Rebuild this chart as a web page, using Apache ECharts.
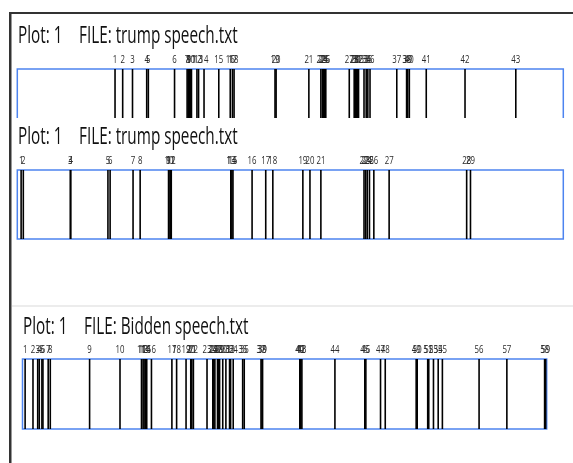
<!DOCTYPE html>
<html>
<head>
<meta charset="utf-8">
<script src="https://cdn.jsdelivr.net/npm/echarts@6/dist/echarts.min.js"></script>
<style>
html,body{margin:0;padding:0;background:#fff;}
#c{width:573px;height:463px;}
</style>
</head>
<body>
<div id="c"></div>
<script>
// Plot titles
const plotLabels = ['Plot: 1', 'Plot: 1', 'Plot: 1'];
const fileLabels = ['FILE: trump speech.txt', 'FILE: trump speech.txt', 'FILE: Bidden speech.txt'];

// Hit positions (% of text length), hit numbers are 1..n in order
const trumpHitsA = [17.9, 19.3, 21.1, 23.7, 24.0, 28.8, 31.1, 31.3, 31.5, 31.7, 31.9, 32.9, 33.2, 34.2,
  36.9, 39.0, 39.4, 39.7, 47.2, 47.4, 53.4, 55.6, 55.9, 56.1, 56.3, 56.5, 60.8, 61.7, 61.9, 62.1,
  62.3, 62.5, 63.5, 63.9, 64.2, 64.6, 69.5, 71.3, 71.5, 71.8, 74.9, 82.0, 91.3];
const trumpHitsB = [0.7, 1.1, 9.7, 9.8, 16.6, 17.0, 21.2, 22.5, 27.7, 27.8, 28.1, 28.2, 39.1, 39.3,
  39.5, 43.0, 45.5, 46.8, 52.3, 53.6, 55.6, 63.5, 63.8, 64.1, 64.5, 65.3, 68.1, 82.3, 83.0];
const biddenHits = [0.5, 2.0, 2.9, 3.2, 3.7, 3.9, 4.9, 5.3, 12.8, 18.6, 22.7, 23.0, 23.2, 23.5, 23.7,
  24.6, 28.5, 29.4, 31.2, 32.1, 32.3, 32.6, 35.2, 36.3, 36.5, 36.7, 37.2, 37.4, 37.6, 38.2, 38.8,
  39.5, 39.7, 40.2, 42.0, 42.3, 45.5, 45.7, 45.8, 52.9, 53.0, 53.1, 53.3, 59.6, 65.3, 65.5, 68.3,
  69.2, 75.1, 75.3, 77.3, 77.5, 78.4, 79.3, 80.1, 87.1, 92.4, 99.6, 99.8];

const hitSets = [trumpHitsA, trumpHitsB, biddenHits];

const chart = echarts.init(document.getElementById('c'), null, {renderer: 'canvas'});

const FONT = 'Open Sans';
const BLUE = '#4d84f0';

const grids = [
  {left: 17.3, right: 9.7, top: 69, height: 62},
  {left: 17.3, right: 9.7, top: 170, height: 69},
  {left: 22.5, right: 26.3, top: 359, height: 70}
].map(g => Object.assign(g, {show: true, borderColor: BLUE, borderWidth: 1.5, backgroundColor: '#fff'}));

function renderItem(params, api) {
  const x = api.value(0);
  const top = api.coord([x, 1]);
  const bot = api.coord([x, 0]);
  return {
    type: 'group',
    children: [
      {type: 'line', shape: {x1: top[0], y1: top[1], x2: bot[0], y2: bot[1]},
        style: {stroke: '#000', lineWidth: 1.6}},
      {type: 'text', x: top[0], y: top[1] - 3, scaleX: 0.68,
        style: {text: String(api.value(1)), fontSize: 11.5, fontFamily: FONT, fill: '#2a2a2a',
          align: 'center', verticalAlign: 'bottom'}}
    ]
  };
}

const series = hitSets.map((hits, i) => ({
  type: 'custom',
  xAxisIndex: i,
  yAxisIndex: i,
  clip: false,
  silent: true,
  dimensions: ['pos', 'num'],
  encode: {x: 'pos'},
  data: hits.map((v, k) => [v, k + 1]),
  renderItem: renderItem
}));

const titleTop = [25, 126, 316];
const titleX = [[18, 79], [18, 79], [23, 84]];
const graphics = [
  // cover lower part of the first plot (hidden behind the second panel's header)
  {type: 'rect', shape: {x: 12, y: 118, width: 561, height: 16}, style: {fill: '#fff'}, z: 100},
  // window frame
  {type: 'rect', shape: {x: 9, y: 12, width: 564, height: 2}, style: {fill: '#333'}, z: 110},
  {type: 'rect', shape: {x: 9, y: 12, width: 2.5, height: 451}, style: {fill: '#333'}, z: 110},
  // faint separator before the third panel
  {type: 'rect', shape: {x: 12, y: 305, width: 561, height: 2}, style: {fill: '#ececec'}, z: 100}
];
plotLabels.forEach((p, i) => {
  graphics.push({type: 'text', x: titleX[i][0], y: titleTop[i], scaleX: 0.665, z: 120,
    style: {text: p, fontSize: 23, fontFamily: FONT, fill: '#111', verticalAlign: 'top'}});
  graphics.push({type: 'text', x: titleX[i][1], y: titleTop[i], scaleX: 0.665, z: 120,
    style: {text: fileLabels[i], fontSize: 23, fontFamily: FONT, fill: '#111', verticalAlign: 'top'}});
});

chart.setOption({
  animation: false,
  backgroundColor: '#fff',
  grid: grids,
  xAxis: grids.map((g, i) => ({gridIndex: i, type: 'value', min: 0, max: 100, show: false})),
  yAxis: grids.map((g, i) => ({gridIndex: i, type: 'value', min: 0, max: 1, show: false})),
  series: series,
  graphic: graphics
});
</script>
</body>
</html>
